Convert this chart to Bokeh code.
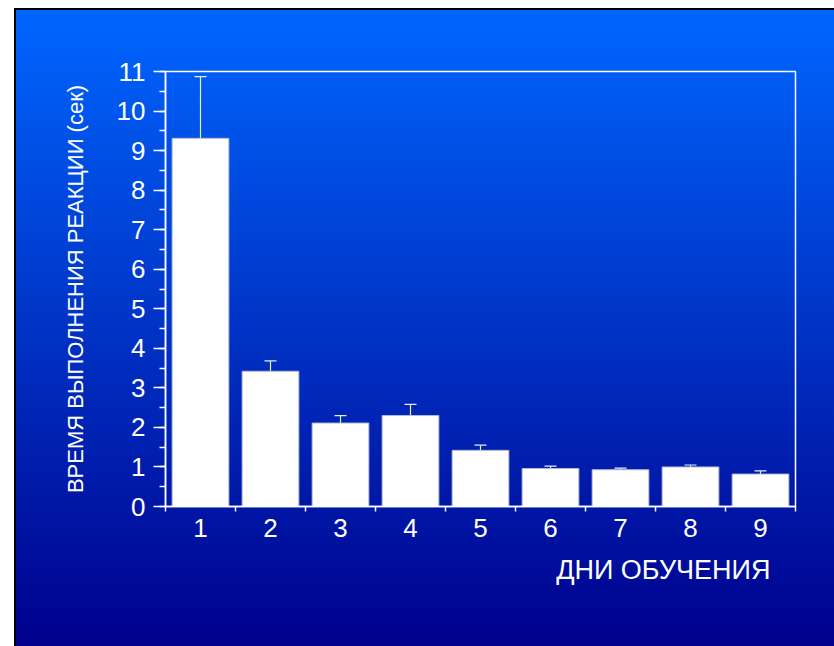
from bokeh.embed import file_html
from bokeh.models import (ColumnDataSource, FixedTicker, SingleIntervalTicker,
                          TeeHead, Title, Whisker)
from bokeh.plotting import figure
from bokeh.resources import INLINE

# Reaction time (s) per training day, mean and error
days = [1, 2, 3, 4, 5, 6, 7, 8, 9]
reaction_time = [9.31, 3.42, 2.11, 2.30, 1.42, 0.96, 0.93, 1.00, 0.82]
error = [1.56, 0.26, 0.19, 0.28, 0.13, 0.06, 0.04, 0.05, 0.08]

y_title = "ВРЕМЯ ВЫПОЛНЕНИЯ РЕАКЦИИ (сек)"
x_title = "ДНИ ОБУЧЕНИЯ"

FONT = "Liberation Sans"

source = ColumnDataSource(data=dict(
    day=days,
    top=reaction_time,
    upper=[v + e for v, e in zip(reaction_time, error)],
))

p = figure(
    width=834, height=646,
    x_range=(0.5, 9.5), y_range=(0, 11),
    output_backend="svg", toolbar_location=None,
    min_border=0,
)
p.min_border_left = 165
p.min_border_right = 39
p.min_border_top = 71
p.min_border_bottom = 140

# transparent canvas over a blue vertical gradient with a thin black edge
p.background_fill_color = None
p.border_fill_color = None
p.styles = {
    "background": (
        "linear-gradient(#000000, #000000) 14px 8px / 2px 100% no-repeat, "
        "linear-gradient(#000000, #000000) 14px 8px / 100% 2px no-repeat, "
        "linear-gradient(to bottom, #0066ff, #00008c) 16px 10px / "
        "calc(100% - 16px) calc(100% - 10px) no-repeat, #ffffff"
    )
}

p.grid.visible = False
p.outline_line_color = "white"
p.outline_line_width = 1.5

# bars
p.vbar(x="day", top="top", bottom=0, width=0.81, source=source,
       fill_color="white", line_color="#b4bccf", line_width=1)

# upper error bars
p.add_layout(Whisker(
    source=source, base="day", lower="top", upper="upper",
    dimension="height", line_color="#e8ecf4", line_width=1.2,
    upper_head=TeeHead(size=12, line_color="#e8ecf4", line_width=1.2),
    lower_head=None,
))

# y axis
yax = p.yaxis[0]
yax.ticker = SingleIntervalTicker(interval=1, num_minor_ticks=2)
# x axis: labels at day centres, small ticks between bars
xax = p.xaxis[0]
xax.ticker = FixedTicker(ticks=days, minor_ticks=[d - 0.5 for d in days] + [9.5])

for ax in (xax, yax):
    ax.axis_line_color = "white"
    ax.axis_line_width = 1.5
    ax.major_tick_line_color = "white"
    ax.major_tick_line_width = 1.5
    ax.minor_tick_line_color = "white"
    ax.minor_tick_line_width = 1.5
    ax.major_tick_in = 0
    ax.minor_tick_in = 0
    ax.major_label_text_color = "white"
    ax.major_label_text_font = FONT
    ax.major_label_text_font_size = "26px"

yax.major_tick_out = 12
yax.minor_tick_out = 6
yax.major_label_standoff = 8
yax.axis_label = y_title
yax.axis_label_text_color = "white"
yax.axis_label_text_font = FONT
yax.axis_label_text_font_size = "22px"
yax.axis_label_text_font_style = "normal"
yax.axis_label_standoff = 26

xax.major_tick_out = 0
xax.major_tick_line_color = None
xax.minor_tick_out = 5
xax.major_label_standoff = 7

# x title sits below the axis, toward the right end
p.add_layout(Title(
    text=x_title, align="right", offset=25, standoff=26,
    text_color="white", text_font=FONT, text_font_size="27px",
    text_font_style="normal",
), "below")

open("out.html", "w").write(file_html(p, INLINE))
